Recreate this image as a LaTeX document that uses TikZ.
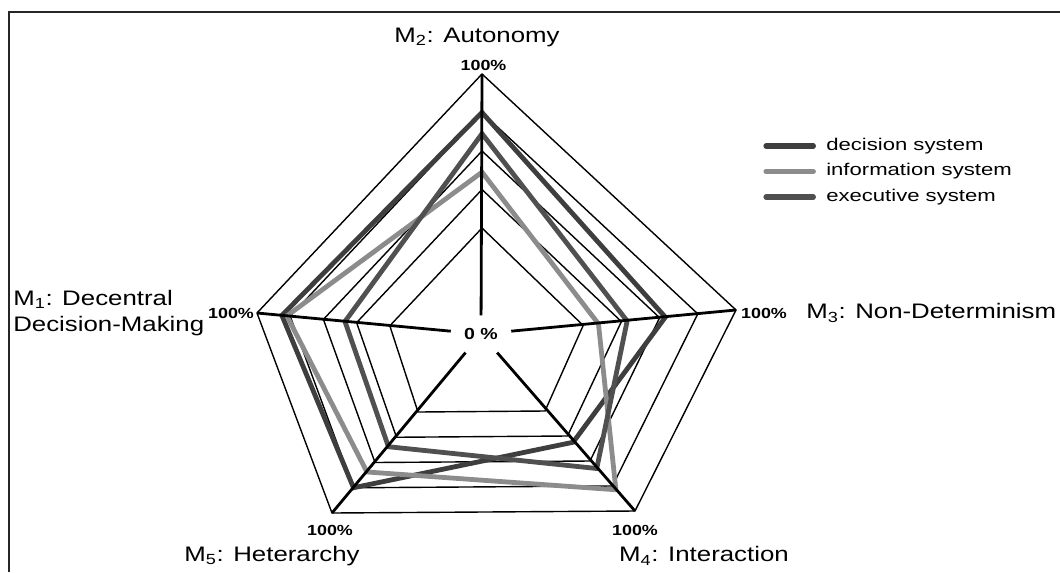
\documentclass[tikz,border=0pt]{standalone}
\usepackage{fontspec}
\setmainfont{Liberation Sans}
\newfontfamily\labelfont{Liberation Sans}[FakeStretch=1.23]
\newfontfamily\legendfont{Liberation Sans}[FakeStretch=1.3]
\newfontfamily\pctfont{Liberation Sans}[FakeStretch=1.22]
\usetikzlibrary{calc}

\definecolor{decisioncol}{HTML}{3E3E3E}
\definecolor{infocol}{HTML}{8C8C8C}
\definecolor{execcol}{HTML}{505050}

\begin{document}
\begin{tikzpicture}[x=0.75pt,y=-0.75pt,
  frame/.style={line width=1.1pt, draw=black!85},
  ring/.style={line width=1.05pt, draw=black},
  axisline/.style={line width=2.1pt, draw=black},
  series/.style={line width=3.6pt, line join=miter},
  decision/.style={series, draw=decisioncol},
  information/.style={series, draw=infocol},
  executive/.style={series, draw=execcol},
  swatch/.style={line width=3.9pt, line cap=round},
  axislabel/.style={font=\labelfont\fontsize{15.75}{19.5}\selectfont, inner sep=0pt},
  pctlabel/.style={font=\pctfont\bfseries\fontsize{11}{13}\selectfont, inner sep=0pt},
  zerolabel/.style={font=\pctfont\bfseries\fontsize{12}{14}\selectfont, inner sep=0pt,
    minimum width=45pt, minimum height=27.5pt},
  legendtext/.style={font=\legendfont\fontsize{12.75}{15}\selectfont, inner sep=0pt, anchor=west}
]
\useasboundingbox (0,0) rectangle (1060,572);

% outer frame
\draw[frame] (9,572) -- (9,12) -- (1060,12);

% zero and full-scale points of the five axes
\coordinate (O1) at (423,329);    \coordinate (T1) at (257,313);
\coordinate (O2) at (482,266.5);  \coordinate (T2) at (482,74);
\coordinate (O3) at (545,329.3);  \coordinate (T3) at (736,310);
\coordinate (O4) at (522.5,386);  \coordinate (T4) at (635,511);
\coordinate (O5) at (439.5,386.75); \coordinate (T5) at (332,513);

% grid rings at 20 % steps
\foreach \f in {0.2,0.4,0.6,0.8,1}{
  \draw[ring] ($(O1)!\f!(T1)$) -- ($(O2)!\f!(T2)$) -- ($(O3)!\f!(T3)$)
     -- ($(O4)!\f!(T4)$) -- ($(O5)!\f!(T5)$) -- cycle;
}

% data series
\draw[decision] ($(O1)!0.85!(T1)$) -- ($(O2)!0.80!(T2)$) -- ($(O3)!0.63!(T3)$)
   -- ($(O4)!0.45!(T4)$) -- ($(O5)!0.80!(T5)$) -- cycle;
\draw[information] ($(O1)!0.82!(T1)$) -- ($(O2)!0.49!(T2)$) -- ($(O3)!0.28!(T3)$)
   -- ($(O4)!0.83!(T4)$) -- ($(O5)!0.675!(T5)$) -- cycle;
\draw[executive] ($(O1)!0.47!(T1)$) -- ($(O2)!0.69!(T2)$) -- ($(O3)!0.43!(T3)$)
   -- ($(O4)!0.66!(T4)$) -- ($(O5)!0.475!(T5)$) -- cycle;

% centre label and axes
\node[zerolabel] (zero) at (481,334) {0 \%};
\foreach \i in {1,...,5}{
  \draw[axisline] (T\i) -- (zero);
}

% full-scale labels
\node[pctlabel] (p2) at (483.5,65.5) {100\%};
\node[pctlabel] (p1) at (231,313) {100\%};
\node[pctlabel] (p3) at (764,313) {100\%};
\node[pctlabel] (p5) at (330,530) {100\%};
\node[pctlabel] (p4) at (635,530) {100\%};

% axis titles
\node[axislabel] (m2) at (477,37) {M\textsubscript{2}: Autonomy};
\node[axislabel, anchor=west, align=left] (m1) at (13,313)
  {M\textsubscript{1}: Decentral\\Decision-Making};
\node[axislabel, anchor=west] (m3) at (806,313) {M\textsubscript{3}: Non-Determinism};
\node[axislabel] (m5) at (272,556) {M\textsubscript{5}: Heterarchy};
\node[axislabel] (m4) at (704,556) {M\textsubscript{4}: Interaction};

% legend
\node[legendtext] (lg1) at (826,146) {decision system};
\node[legendtext] (lg2) at (826,171.5) {information system};
\node[legendtext] (lg3) at (826,197) {executive system};
\draw[swatch, draw=decisioncol] ([xshift=-9.5pt]lg1.west) -- ++(-35.5pt,0);
\draw[swatch, draw=infocol] ([xshift=-9.5pt]lg2.west) -- ++(-35.5pt,0);
\draw[swatch, draw=execcol] ([xshift=-9.5pt]lg3.west) -- ++(-35.5pt,0);
\end{tikzpicture}
\end{document}
